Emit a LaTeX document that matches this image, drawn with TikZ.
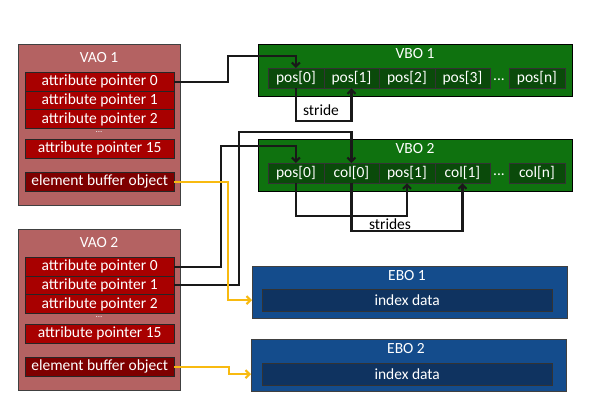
\documentclass[tikz,border=0pt]{standalone}
\usepackage{fontspec}
\setmainfont{Carlito}
\usetikzlibrary{arrows.meta}

\definecolor{vaofill}{HTML}{B46262}
\definecolor{attrfill}{HTML}{A80000}
\definecolor{elemfill}{HTML}{7E0000}
\definecolor{vbofill}{HTML}{0F720F}
\definecolor{cellfill}{HTML}{0A4A0A}
\definecolor{ebofill}{HTML}{144C8C}
\definecolor{idxfill}{HTML}{0F3360}
\definecolor{ylw}{HTML}{F8BA10}

\tikzset{
  lbl/.style={font=\fontsize{15.5}{17}\selectfont, text=white, inner sep=0pt},
  vaobox/.style={draw=black!75, fill=vaofill, anchor=north west, minimum width=162, minimum height=161},
  attr/.style={lbl, draw=black!85, fill=attrfill, anchor=north west, minimum width=149, minimum height=18.7},
  elem/.style={attr, fill=elemfill},
  vbobox/.style={draw=black, fill=vbofill, anchor=north west, minimum width=314, minimum height=52},
  cell/.style={lbl, draw=black!80, fill=cellfill, anchor=north west, minimum width=55.5, minimum height=20},
  ebobox/.style={draw=black!75, fill=ebofill, anchor=north west, minimum width=315, minimum height=52},
  idx/.style={lbl, draw=black!80, fill=idxfill, anchor=north west, minimum width=290, minimum height=22},
  link/.style={draw=black!90, line width=2.1pt, -{Straight Barb[length=4pt,width=8pt]}},
  ylink/.style={link, draw=ylw}
}

\begin{document}
\begin{tikzpicture}[x=1pt, y=-1pt]
  \useasboundingbox[fill=white] (0,0) rectangle (589,416);

  % vertex array objects
  \foreach \i/\dy in {1/0, 2/185} {
    \node[vaobox] (vao\i) at (18,44+\dy) {};
    \node[lbl] (vao\i-t) at (99,58+\dy) {VAO \i};
    \node[attr] (ap\i-0) at (25,72+\dy) {attribute pointer 0};
    \node[attr] (ap\i-1) at (25,90.7+\dy) {attribute pointer 1};
    \node[attr] (ap\i-2) at (25,109.4+\dy) {attribute pointer 2};
    \node[lbl, font=\fontsize{9}{10}\selectfont, text=white!90!gray] (dots\i) at (99,132.5+\dy) {...};
    \node[attr] (ap\i-15) at (25,139+\dy) {attribute pointer 15};
    \node[elem] (eb\i) at (25,172+\dy) {element buffer object};
  }

  % vertex buffer objects
  \node[vbobox] (vbo1) at (258,44) {};
  \node[lbl] (vbo1-t) at (415,54) {VBO 1};
  \foreach \j/\t in {0/pos[0], 1/pos[1], 2/pos[2], 3/pos[3]}
    \node[cell] (v1-\j) at (268+55.5*\j,68) {\t};
  \node[lbl] (v1-dots) at (499,80) {...};
  \node[cell] (v1-n) at (509,68) {pos[n]};

  \node[vbobox] (vbo2) at (258,139) {};
  \node[lbl] (vbo2-t) at (415,149) {VBO 2};
  \foreach \j/\t in {0/pos[0], 1/col[0], 2/pos[1], 3/col[1]}
    \node[cell] (v2-\j) at (268+55.5*\j,163) {\t};
  \node[lbl] (v2-dots) at (499,175) {...};
  \node[cell] (v2-n) at (509,163) {col[n]};

  % element buffer objects
  \node[ebobox] (ebo1) at (252,266) {};
  \node[lbl] (ebo1-t) at (407,276) {EBO 1};
  \node[idx] (idx1) at (262,289) {index data};

  \node[ebobox] (ebo2) at (251,339) {};
  \node[lbl] (ebo2-t) at (406,349) {EBO 2};
  \node[idx] (idx2) at (262,363) {index data};

  % strides
  \draw[link] (v1-0.south) -- ++(0,33) -| (v1-1.south);
  \node[lbl, text=black] (stride1) at (321,110) {stride};
  \draw[link] (v2-0.south) -- ++(0,33) -| (v2-2.south);
  \draw[link] (v2-1.south) -- ++(0,48) -| (v2-3.south);
  \node[lbl, text=black] (stride2) at (390,224) {strides};

  % attribute pointers
  \draw[link] (ap1-0.east) -- ++(54,0) |- ([yshift=12pt]v1-0.north) -- (v1-0.north);
  \draw[link] (ap2-0.east) -- ++(47,0) |- ([yshift=17pt]v2-0.north) -- (v2-0.north);
  \draw[link] (ap2-1.east) -- ++(65,0) |- ([yshift=31pt]v2-1.north) -- (v2-1.north);

  % element buffers
  \draw[ylink] (eb1.east) -- ++(54,0) |- (ebo1.west |- idx1.west);
  \draw[ylink] (eb2.east) -- ++(55,0) |- (ebo2.west |- idx2.west);
\end{tikzpicture}
\end{document}
